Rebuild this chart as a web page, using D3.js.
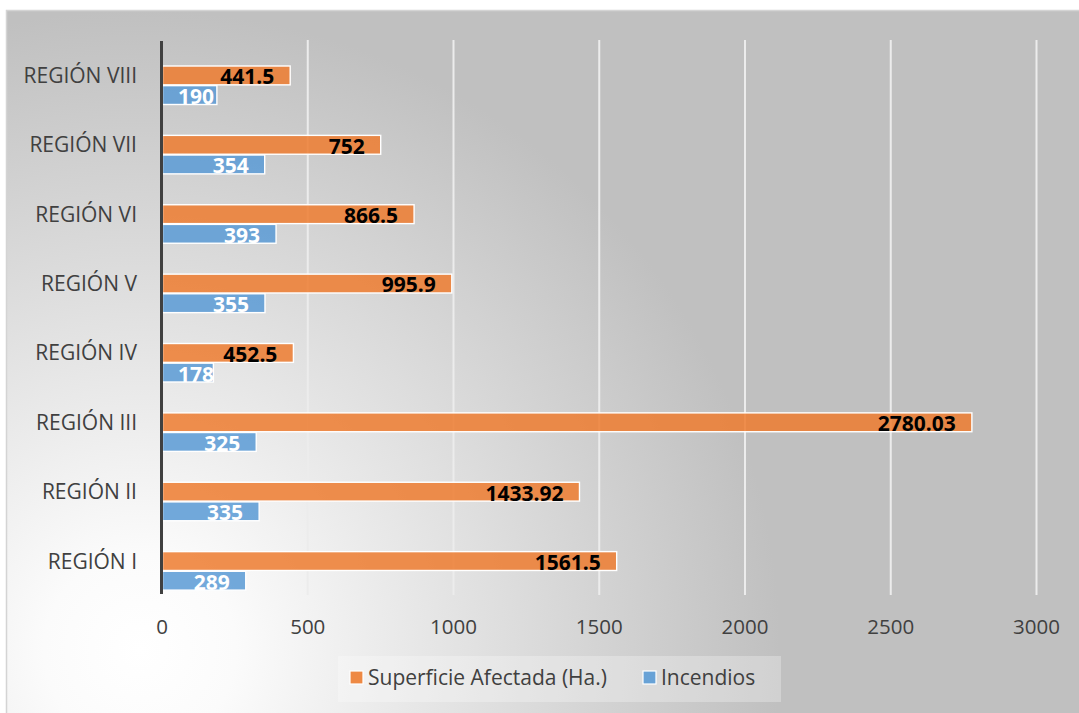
<!DOCTYPE html>
<html>
<head>
<meta charset="utf-8">
<script src="https://cdn.jsdelivr.net/npm/d3@7"></script>
<style>
  html, body { margin: 0; padding: 0; background: #ffffff; }
  svg { display: block; font-family: "Open Sans", "Noto Sans", sans-serif; }
</style>
</head>
<body>
<svg id="chart" width="1079" height="713"></svg>
<script>
// Regions, listed top to bottom as drawn
const regions = ["REGIÓN VIII", "REGIÓN VII", "REGIÓN VI", "REGIÓN V", "REGIÓN IV", "REGIÓN III", "REGIÓN II", "REGIÓN I"];
// Affected surface (hectares) per region
const superficie = [441.5, 752, 866.5, 995.9, 452.5, 2780.03, 1433.92, 1561.5];
// Number of fires per region
const incendios = [190, 354, 393, 355, 178, 325, 335, 289];
const seriesNames = ["Superficie Afectada (Ha.)", "Incendios"];
const seriesKeys = ["superficie", "incendios"];
const xTicks = [0, 500, 1000, 1500, 2000, 2500, 3000];

const rows = regions.map((r, i) => ({ region: r, superficie: superficie[i], incendios: incendios[i] }));

const colors = { superficie: "#ED7D31", incendios: "#5B9BD5" };
const labelColors = { superficie: "#000000", incendios: "#ffffff" };

const svg = d3.select("#chart");
const W = 1079, H = 713;

// Background panel with a soft radial highlight toward the lower left
const defs = svg.append("defs");
const grad = defs.append("radialGradient")
  .attr("id", "panelGrad")
  .attr("gradientUnits", "userSpaceOnUse")
  .attr("cx", 140).attr("cy", 650).attr("r", 640);
grad.append("stop").attr("offset", "0").attr("stop-color", "#ffffff");
grad.append("stop").attr("offset", "0.15").attr("stop-color", "#fbfbfb");
grad.append("stop").attr("offset", "1").attr("stop-color", "#c0c0c0");

svg.append("rect")
  .attr("x", 6.5).attr("y", 10.5)
  .attr("width", W).attr("height", H)
  .attr("fill", "url(#panelGrad)")
  .attr("stroke", "#d4d4d4").attr("stroke-width", 1.5);

const plot = { left: 161.5, right: 1036, top: 40, bottom: 595 };

const x = d3.scaleLinear().domain([0, 3000]).range([plot.left, plot.right]);
const y = d3.scaleBand().domain(regions).range([plot.top, plot.bottom]);
// bars sit slightly below each band centre
const inner = d3.scaleBand().domain(seriesKeys).range([26, 64.5]).paddingInner(0.04);

// Vertical gridlines
const grid = svg.append("g")
  .attr("transform", `translate(0,${plot.bottom})`)
  .call(d3.axisBottom(x).tickValues(xTicks.filter(d => d > 0)).tickSize(-(plot.bottom - plot.top)).tickFormat(""));
grid.select(".domain").remove();
grid.selectAll("line").attr("stroke", "#ececec").attr("stroke-width", 2);

// X tick labels
const xAxis = svg.append("g")
  .attr("transform", `translate(0,${plot.bottom})`)
  .call(d3.axisBottom(x).tickValues(xTicks).tickSize(0).tickPadding(24).tickFormat(d3.format("d")));
xAxis.select(".domain").remove();
xAxis.selectAll("text")
  .attr("fill", "#404040")
  .style("font-size", "20.5px")
  .style("font-family", "'Open Sans', sans-serif");

// Category labels
const yAxis = svg.append("g")
  .attr("transform", `translate(137,1.5)`)
  .call(d3.axisLeft(y).tickSize(0).tickPadding(0));
yAxis.select(".domain").remove();
yAxis.selectAll("text")
  .attr("fill", "#404040")
  .style("font-size", "21px")
  .style("font-family", "'Open Sans', sans-serif");

// Bars
const groups = svg.append("g").selectAll("g")
  .data(rows).join("g")
  .attr("transform", d => `translate(0,${y(d.region)})`);

groups.selectAll("rect")
  .data(d => seriesKeys.map(k => ({ key: k, value: d[k] })))
  .join("rect")
  .attr("x", x(0) + 1)
  .attr("y", d => inner(d.key))
  .attr("width", d => x(d.value) - x(0) - 1)
  .attr("height", inner.bandwidth())
  .attr("fill", d => colors[d.key])
  .attr("fill-opacity", 0.86)
  .attr("stroke", "#ffffff")
  .attr("stroke-width", 1.4);

// Value labels, inside the end of each bar
const fmt = v => String(v);
groups.selectAll("text.val")
  .data(d => seriesKeys.map(k => ({ key: k, value: d[k] })))
  .join("text")
  .attr("class", "val")
  .attr("y", d => inner(d.key) + inner.bandwidth() - 0.5)
  .attr("fill", d => labelColors[d.key])
  .style("font-size", "21px")
  .style("font-weight", "700")
  .style("font-family", "'Open Sans', sans-serif")
  .attr("text-anchor", "end")
  .text(d => fmt(d.value))
  .attr("x", function (d) {
    const w = this.getComputedTextLength();
    return Math.max(x(d.value) - 16, x(0) + 16.5 + w);
  });

// Axis line
svg.append("line")
  .attr("x1", x(0)).attr("x2", x(0))
  .attr("y1", plot.top + 1).attr("y2", plot.bottom - 1)
  .attr("stroke", "#404040").attr("stroke-width", 3);

// Legend
const legend = svg.append("g");
legend.append("rect")
  .attr("x", 338).attr("y", 656).attr("width", 443).attr("height", 46)
  .attr("fill", "#ffffff").attr("fill-opacity", 0.28);
const legendItems = [
  { key: "superficie", name: seriesNames[0], x: 350 },
  { key: "incendios", name: seriesNames[1], x: 643 }
];
const li = legend.selectAll("g.item").data(legendItems).join("g")
  .attr("class", "item")
  .attr("transform", d => `translate(${d.x},671)`);
li.append("rect")
  .attr("width", 13).attr("height", 13)
  .attr("fill", d => colors[d.key]).attr("fill-opacity", 0.9)
  .attr("stroke", "#ffffff").attr("stroke-width", 1.2);
li.append("text")
  .attr("x", 18).attr("y", 14)
  .attr("fill", "#404040")
  .style("font-size", "21px")
  .text(d => d.name);
</script>
</body>
</html>
